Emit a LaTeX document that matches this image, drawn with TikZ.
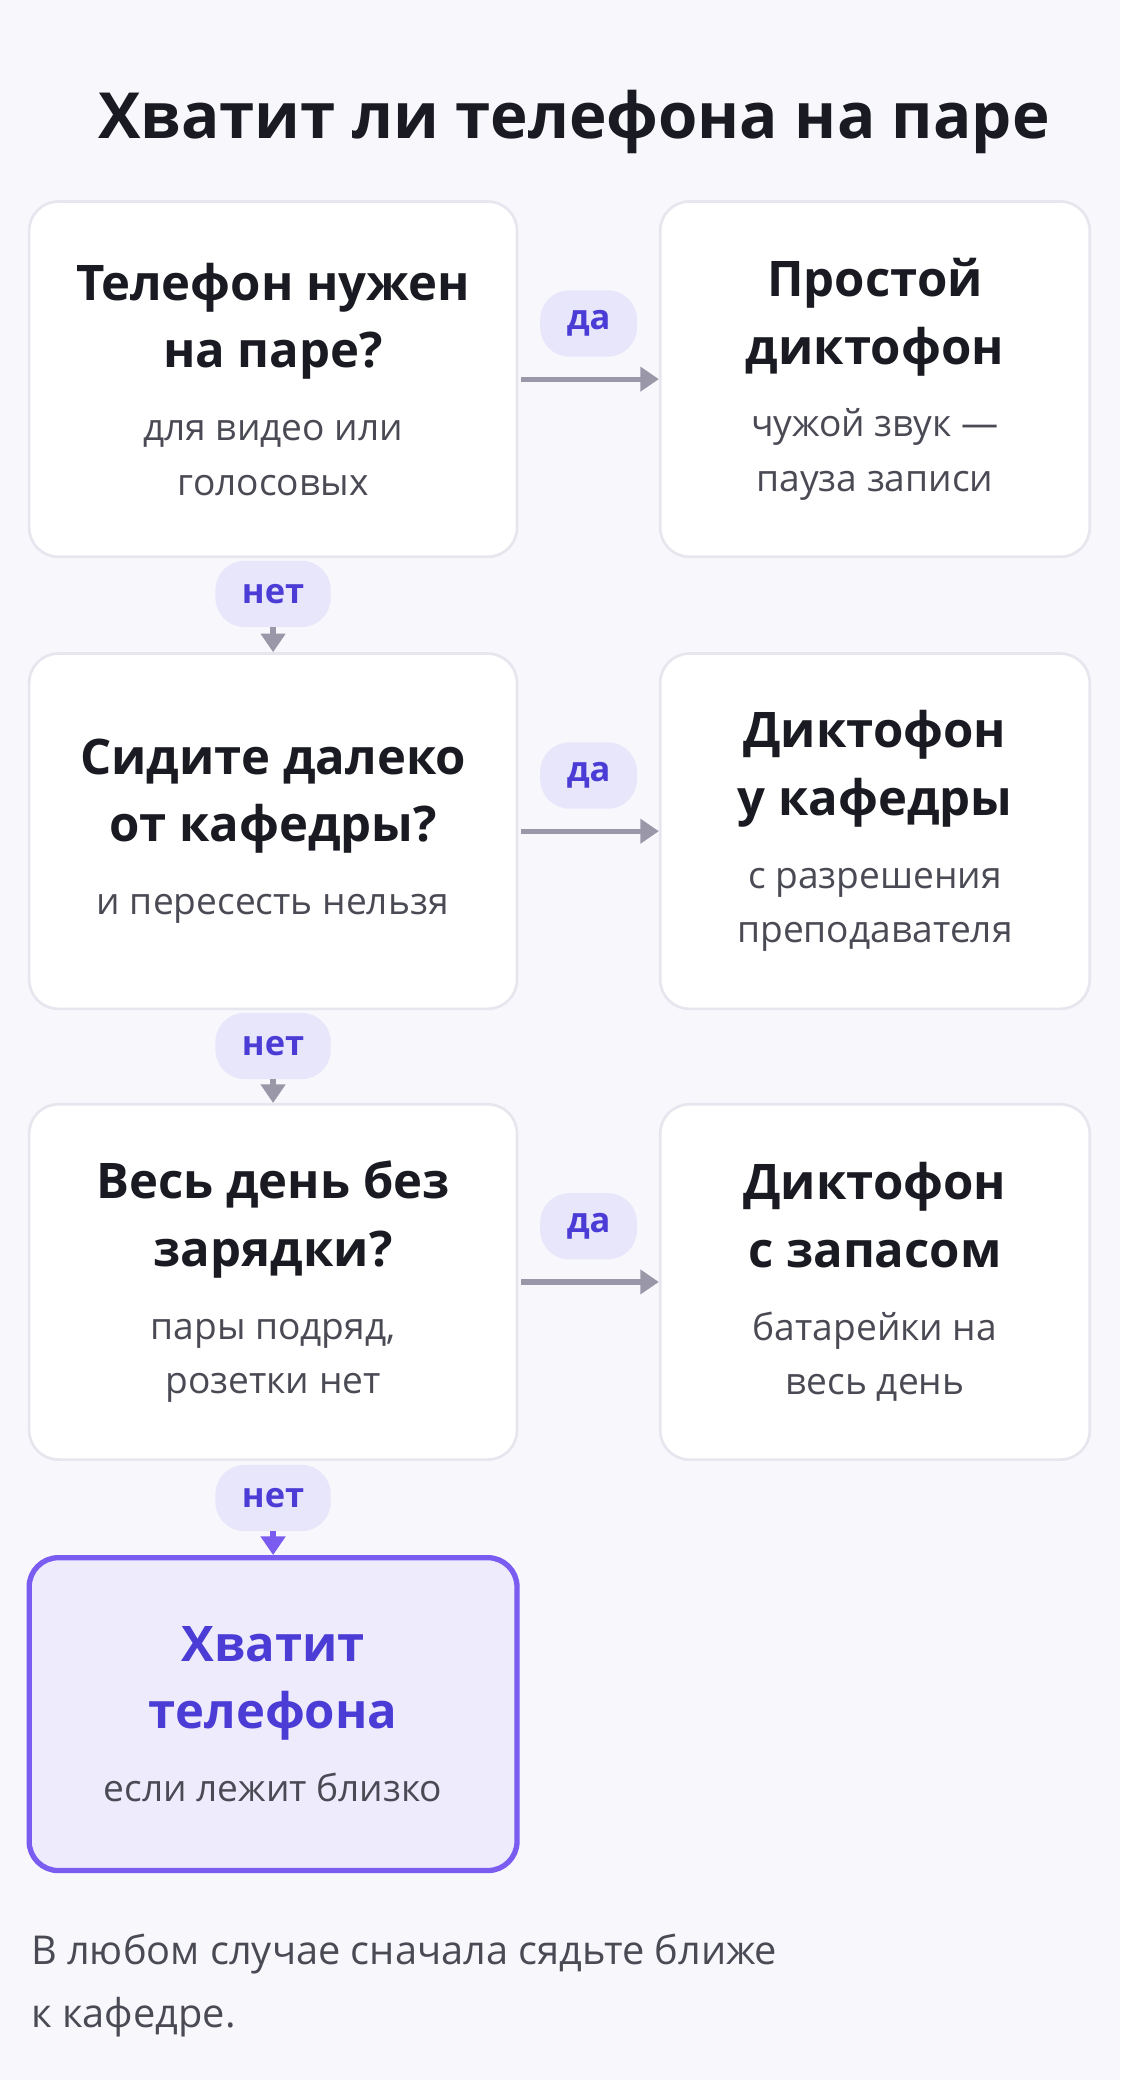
\documentclass[tikz,border=0pt]{standalone}
\usepackage{fontspec}
\setmainfont{Open Sans}
\usetikzlibrary{arrows.meta,calc}
\definecolor{bg}{HTML}{F7F7FC}
\definecolor{bord}{HTML}{E6E6EE}
\definecolor{pill}{HTML}{E8E6FB}
\definecolor{acc}{HTML}{4B3CD6}
\definecolor{arr}{HTML}{9A98A8}
\definecolor{fin}{HTML}{7B5CF0}
\definecolor{finfill}{HTML}{EEEBFD}
\definecolor{txt}{HTML}{1A1A22}
\definecolor{sub}{HTML}{4A4A55}
\begin{document}
\begin{tikzpicture}[x=1pt,y=-1pt,
 box/.style={draw=bord,line width=2pt,fill=white,rounded corners=22pt,minimum width=368pt,minimum height=268pt,align=center,text=txt,font=\fontsize{37}{51}\selectfont\bfseries},
 rbox/.style={box,minimum width=324pt},
 pill/.style={fill=pill,rounded corners=22pt,text=acc,font=\fontsize{26}{30}\selectfont\bfseries,inner xsep=20pt,minimum height=50pt},
 rarr/.style={draw=arr,line width=4pt,-{Triangle[length=14pt,width=18pt]}},
]
\def\sm{\fontsize{28}{39}\selectfont\mdseries\color{sub}}
\fill[bg] (0,0) rectangle (845,1569);
\node[font=\fontsize{48}{52}\selectfont\bfseries,text=txt] (title) at (433,92) {Хватит ли телефона на паре};
\node[box] (q1) at (206,286) {Телефон нужен\\на паре?\\[4pt]\sm для видео или\\[-10pt]\sm голосовых};
\node[rbox] (a1) at (660,286) {Простой\\диктофон\\[4pt]\sm чужой звук —\\[-10pt]\sm пауза записи};
\node[box] (q2) at (206,627) {Сидите далеко\\от кафедры?\\[4pt]\sm и пересесть нельзя};
\node[rbox] (a2) at (660,627) {Диктофон\\у кафедры\\[4pt]\sm с разрешения\\[-10pt]\sm преподавателя};
\node[box] (q3) at (206,967) {Весь день без\\зарядки?\\[4pt]\sm пары подряд,\\[-10pt]\sm розетки нет};
\node[rbox] (a3) at (660,967) {Диктофон\\с запасом\\[4pt]\sm батарейки на\\[-10pt]\sm весь день};
\node[box,draw=fin,line width=4pt,fill=finfill,minimum height=236pt,text=acc] (f) at (206,1293)
 {Хватит\\телефона\\[4pt]\sm если лежит близко};
\foreach \q/\a in {q1/a1,q2/a2,q3/a3}{
 \draw[rarr] ([xshift=2pt]\q.east) -- (\a.west);
 \node[pill] at ($(\q.east)!0.5!(\a.west)+(0,-42)$) {да};}
\node[pill] (n1) at (206,448) {нет};
\node[pill] (n2) at (206,789) {нет};
\node[pill] (n3) at (206,1130) {нет};
\draw[rarr] (n1.south) -- (q2.north);
\draw[rarr] (n2.south) -- (q3.north);
\draw[rarr,draw=fin] (n3.south) -- (f.north);
\node[anchor=north west,align=left,text=sub,font=\fontsize{30}{48}\selectfont] (foot) at (20,1455) {В любом случае сначала сядьте ближе\\к кафедре.};
\end{tikzpicture}
\end{document}
